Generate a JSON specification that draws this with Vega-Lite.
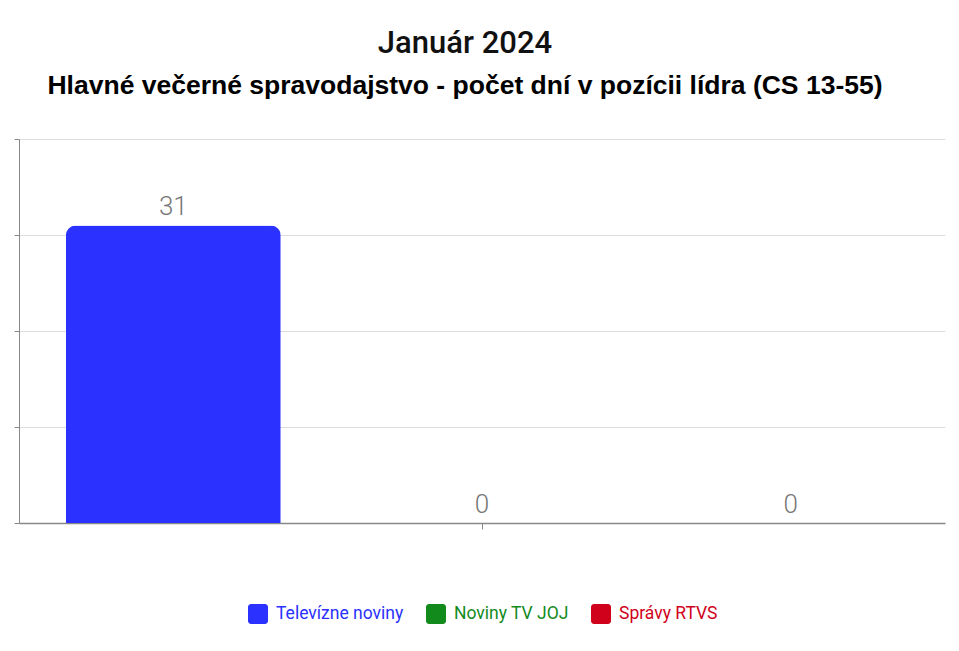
{
  "$schema": "https://vega.github.io/schema/vega-lite/v6.json",
  "width": 926,
  "height": 384,
  "autosize": {"type": "none"},
  "padding": {"left": 19, "top": 139, "right": 14, "bottom": 128},
  "background": "white",
  "config": {"view": {"stroke": null}},
  "title": {
    "text": "Január 2024",
    "subtitle": "Hlavné večerné spravodajstvo - počet dní v pozícii lídra (CS 13-55)",
    "anchor": "middle",
    "frame": "group",
    "dx": -17,
    "font": "Roboto",
    "fontSize": 31,
    "fontWeight": 500,
    "color": "#111111",
    "subtitleFont": "Liberation Sans",
    "subtitleFontSize": 26.5,
    "subtitleFontWeight": "bold",
    "subtitleColor": "#000000",
    "subtitlePadding": 13,
    "offset": 38
  },
  "data": {
    "values": [
      {"month": "Január 2024", "series": "Televízne noviny", "value": 31},
      {"month": "Január 2024", "series": "Noviny TV JOJ", "value": 0},
      {"month": "Január 2024", "series": "Správy RTVS", "value": 0}
    ]
  },
  "encoding": {
    "x": {
      "field": "month",
      "type": "nominal",
      "scale": {"paddingInner": 0, "paddingOuter": 0},
      "axis": {"labels": false, "title": null, "ticks": true, "tickSize": 6, "tickColor": "#888888", "domainColor": "#888888", "domainWidth": 1.5}
    },
    "xOffset": {
      "field": "series",
      "type": "nominal",
      "sort": ["Televízne noviny", "Noviny TV JOJ", "Správy RTVS"],
      "scale": {"paddingInner": 0.304, "paddingOuter": 0.152}
    },
    "y": {
      "field": "value",
      "type": "quantitative",
      "scale": {"domain": [0, 40], "nice": false},
      "axis": {"values": [0, 10, 20, 30, 40], "labels": false, "title": null, "tickSize": 5, "tickColor": "#888888", "domainColor": "#888888", "gridColor": "#dddddd"}
    }
  },
  "layer": [
    {
      "mark": {"type": "bar", "cornerRadiusTopLeft": 10, "cornerRadiusTopRight": 10},
      "encoding": {
        "color": {
          "field": "series",
          "type": "nominal",
          "sort": ["Televízne noviny", "Noviny TV JOJ", "Správy RTVS"],
          "scale": {"domain": ["Televízne noviny", "Noviny TV JOJ", "Správy RTVS"], "range": ["#2b32ff", "#128a1c", "#d0021b"]},
          "legend": {
            "title": null,
            "orient": "none",
            "legendX": 229,
            "legendY": 465,
            "direction": "horizontal",
            "symbolType": "M -0.7,-1 H 0.7 A 0.3 0.3 0 0 1 1 -0.7 V 0.7 A 0.3 0.3 0 0 1 0.7 1 H -0.7 A 0.3 0.3 0 0 1 -1 0.7 V -0.7 A 0.3 0.3 0 0 1 -0.7 -1 Z",
            "symbolSize": 400,
            "symbolStrokeWidth": 0,
            "symbolOpacity": 1,
            "labelFont": "Roboto",
            "labelFontSize": 17.5,
            "labelOffset": 8,
            "columnPadding": 22,
            "encode": {"labels": {"update": {"fill": {"scale": "color", "field": "value"}}}}
          }
        }
      }
    },
    {
      "mark": {"type": "text", "dy": -10, "baseline": "alphabetic", "fontSize": 26, "color": "#777777", "font": "Roboto", "fontWeight": 300},
      "encoding": {"text": {"field": "value", "type": "quantitative"}}
    }
  ]
}
